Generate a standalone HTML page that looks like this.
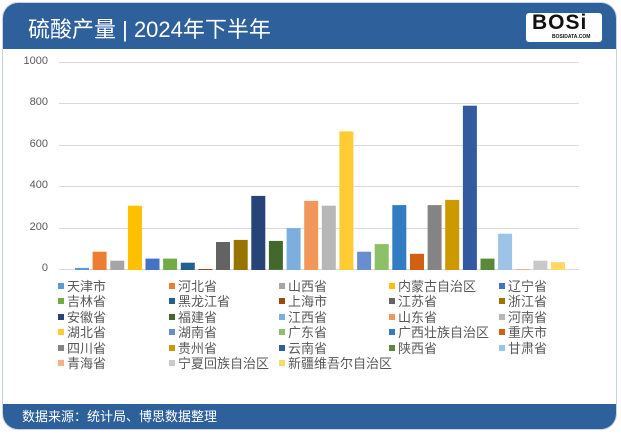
<!DOCTYPE html>
<html><head><meta charset="utf-8"><style>
body{margin:0;width:621px;height:434px;background:#fff;position:relative;overflow:hidden;font-family:"Liberation Sans","Noto Sans CJK SC",sans-serif}
.card{position:absolute;left:2px;top:2px;width:613px;height:426px;border:1px solid #c9d3e0;border-radius:16px;overflow:hidden;background:#fff}
.hd{position:absolute;left:0;top:0;width:100%;height:46px;background:#2e609b}
.ft{position:absolute;left:0;bottom:0;width:100%;height:25px;background:#2e609b}
.t{position:absolute;color:#fff}
.lg{position:absolute;font-size:13px;color:#595959;line-height:15px;white-space:nowrap}
.lg i{display:inline-block;width:6px;height:6px;margin-right:3px;vertical-align:2px}
.yl{position:absolute;font-size:11px;color:#595959;text-align:right;width:36px}
</style></head><body>
<div class="card">
<div class="hd"></div>
<div class="t" style="left:25px;top:9px;font-size:22px">硫酸产量 | 2024年下半年</div>
<div style="position:absolute;left:523px;top:10px;width:76px;height:29px;background:#fff;border-radius:3px">
<div style="position:absolute;left:6px;top:-2px;font:bold 21px 'Liberation Sans';color:#111;letter-spacing:1px">BOSi</div>
<div style="position:absolute;left:26px;top:21px;font:bold 5px 'Liberation Sans';color:#111">BOSIDATA.COM</div>
</div>
<div class="ft"></div>
<div class="t" style="left:19px;bottom:4px;font-size:13px">数据来源：统计局、博思数据整理</div>
</div>
<svg style="position:absolute;left:0;top:0" width="621" height="434">
<g stroke="#d9d9d9" stroke-width="1">
<line x1="59" x2="579" y1="62.5" y2="62.5"/><line x1="59" x2="579" y1="103.5" y2="103.5"/><line x1="59" x2="579" y1="145.5" y2="145.5"/><line x1="59" x2="579" y1="186.5" y2="186.5"/><line x1="59" x2="579" y1="228.5" y2="228.5"/><line x1="59" x2="579" y1="269.5" y2="269.5"/>
</g>
<g id="b"></g>
</svg>
<div class="yl" style="left:12px;top:55px">1000</div>
<div class="yl" style="left:12px;top:96px">800</div>
<div class="yl" style="left:12px;top:138px">600</div>
<div class="yl" style="left:12px;top:179px">400</div>
<div class="yl" style="left:12px;top:221px">200</div>
<div class="yl" style="left:12px;top:262px">0</div>
<div id="lg"></div>
<script>
var v=[10,88,45,310,55,55,35,5,135,145,357,140,202,333,310,668,88,125,313,78,313,338,792,55,175,5,45,38];
var c=["#5b9bd5","#ed7d31","#a5a5a5","#ffc000","#4472c4","#70ad47","#255e91","#9e480e","#636363","#997300","#264478","#43682b","#7cafdd","#f1975a","#b7b7b7","#ffcd33","#698ed0","#8cc168","#327dc2","#d26012","#848484","#cc9a00","#335aa1","#5a8a39","#9dc3e6","#f4b183","#c9c9c9","#ffd966"];
var n=["天津市","河北省","山西省","内蒙古自治区","辽宁省","吉林省","黑龙江省","上海市","江苏省","浙江省","安徽省","福建省","江西省","山东省","河南省","湖北省","湖南省","广东省","广西壮族自治区","重庆市","四川省","贵州省","云南省","陕西省","甘肃省","青海省","宁夏回族自治区","新疆维吾尔自治区"];
var s="";for(var i=0;i<28;i++){var h=v[i]*0.2075;s+='<rect x="'+(75+i*17.63).toFixed(1)+'" y="'+(270-h).toFixed(1)+'" width="14" height="'+h.toFixed(1)+'" fill="'+c[i]+'"/>';}
document.getElementById("b").innerHTML=s;
var xs=[58,169,279,389,499],l="";
for(var i=0;i<28;i++){l+='<div class="lg" style="left:'+xs[i%5]+'px;top:'+(279+Math.floor(i/5)*15.4)+'px"><i style="background:'+c[i]+'"></i>'+n[i]+'</div>';}
document.getElementById("lg").innerHTML=l;
</script>
</body></html>
